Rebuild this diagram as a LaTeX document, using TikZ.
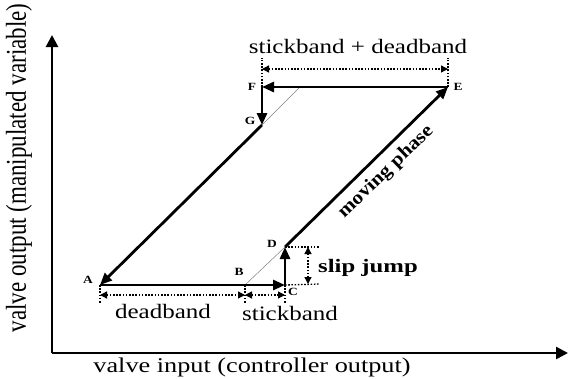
\documentclass[tikz,border=0pt]{standalone}
\usepackage{fontspec}
\usepackage{graphicx}
\setmainfont{Liberation Serif}
\usetikzlibrary{arrows.meta}
% horizontally widened text
\newcommand\widetext[2][1.22]{\scalebox{#1}[1]{#2}}
\begin{document}
\begin{tikzpicture}[x=1pt,y=-1pt,
  curve/.style={line width=2.8pt, -{Triangle[length=12pt,width=10pt]}},
  axis/.style={line width=2.6pt, -{Triangle[length=12pt,width=12pt]}},
  dimline/.style={line width=1.3pt, dash pattern=on 1.6pt off 1.6pt,
    {Triangle[length=7pt,width=7pt]}-{Triangle[length=7pt,width=7pt]}},
  ticks/.style={line width=1.3pt, dash pattern=on 1.6pt off 1.6pt},
  guide/.style={line width=0.5pt, gray},
  ptlabel/.style={font=\fontsize{11}{13}\selectfont\bfseries, inner sep=0pt},
  dimlabel/.style={font=\fontsize{20.5}{24}\selectfont, inner sep=0pt, anchor=base},
  boldlabel/.style={font=\fontsize{19}{23}\selectfont\bfseries, inner sep=0pt}
]
\useasboundingbox (0,0) rectangle (568,378);

% axes
\coordinate (O) at (52,353);
\coordinate (Ytop) at (52,35);
\coordinate (Xend) at (568,353);
\draw[axis] (O) -- (Ytop);
\draw[axis] (O) -- (Xend);
\node[font=\fontsize{21}{25}\selectfont, inner sep=0pt, anchor=base] (xlab) at (252,372)
  {\widetext[1.25]{valve input (controller output)}};
\node[font=\fontsize{23}{27}\selectfont, inner sep=0pt, rotate=90] (ylab) at (19,168)
  {\scalebox{1}[1.25]{valve output (manipulated variable)}};

% cycle points
\coordinate (A) at (100,285);
\coordinate (B) at (245,285);
\coordinate (C) at (285,285);
\coordinate (D) at (285,247);
\coordinate (E) at (448,87);
\coordinate (F) at (262,87);
\coordinate (G) at (262,125);
\coordinate (H) at (300,87);

% thin guide of the ideal characteristic
\draw[guide] (B) -- (D);
\draw[guide] (G) -- (H);

% stick-slip cycle
\draw[curve] (A) -- (C);
\draw[curve] (C) -- (D);
\draw[curve] (D) -- (E);
\draw[curve] (E) -- (F);
\draw[curve] (F) -- (G);
\draw[curve] (G) -- (A);

% point labels
\node[ptlabel] (lA) at (88,280) {\widetext{A}};
\node[ptlabel] (lB) at (239,272) {\widetext{B}};
\node[ptlabel] (lC) at (293,292) {\widetext{C}};
\node[ptlabel] (lD) at (272,244) {\widetext{D}};
\node[ptlabel] (lE) at (458,87) {\widetext{E}};
\node[ptlabel] (lF) at (252,87) {\widetext{F}};
\node[ptlabel] (lG) at (250,121) {\widetext{G}};

% deadband and stickband below
\coordinate (A1) at (100,303);
\coordinate (B1) at (245,303);
\coordinate (C1) at (285,303);
\coordinate (A2) at (100,295);
\coordinate (B2) at (245,295);
\coordinate (C2) at (285,295);
\draw[ticks] (A) -- (A1);
\draw[ticks] (B) -- (B1);
\draw[ticks] (C) -- (C1);
\draw[dimline] (A2) -- (B2);
\draw[dimline] (B2) -- (C2);
\node[dimlabel] (dead) at (163,318) {\widetext{deadband}};
\node[dimlabel] (stick) at (290,320) {\widetext{stickband}};

% stickband + deadband on top
\coordinate (F1) at (262,58);
\coordinate (E1) at (448,58);
\coordinate (F2) at (262,69);
\coordinate (E2) at (448,69);
\draw[ticks] (F) -- (F1);
\draw[ticks] (E) -- (E1);
\draw[dimline] (F2) -- (E2);
\node[dimlabel] (sd) at (358,53) {\widetext{stickband + deadband}};

% slip jump
\coordinate (D1) at (320,247);
\coordinate (C3) at (320,284);
\coordinate (D2) at (308,247);
\coordinate (C4) at (308,284);
\draw[ticks] (D) -- (D1);
\draw[ticks] (C) -- (C3);
\draw[dimline] (D2) -- (C4);
\node[boldlabel] (slip) at (368,268) {\widetext[1.3]{slip jump}};

% moving phase
\node[boldlabel, rotate=44] (move) at (386,172) {\widetext[1.12]{moving phase}};
\end{tikzpicture}
\end{document}
